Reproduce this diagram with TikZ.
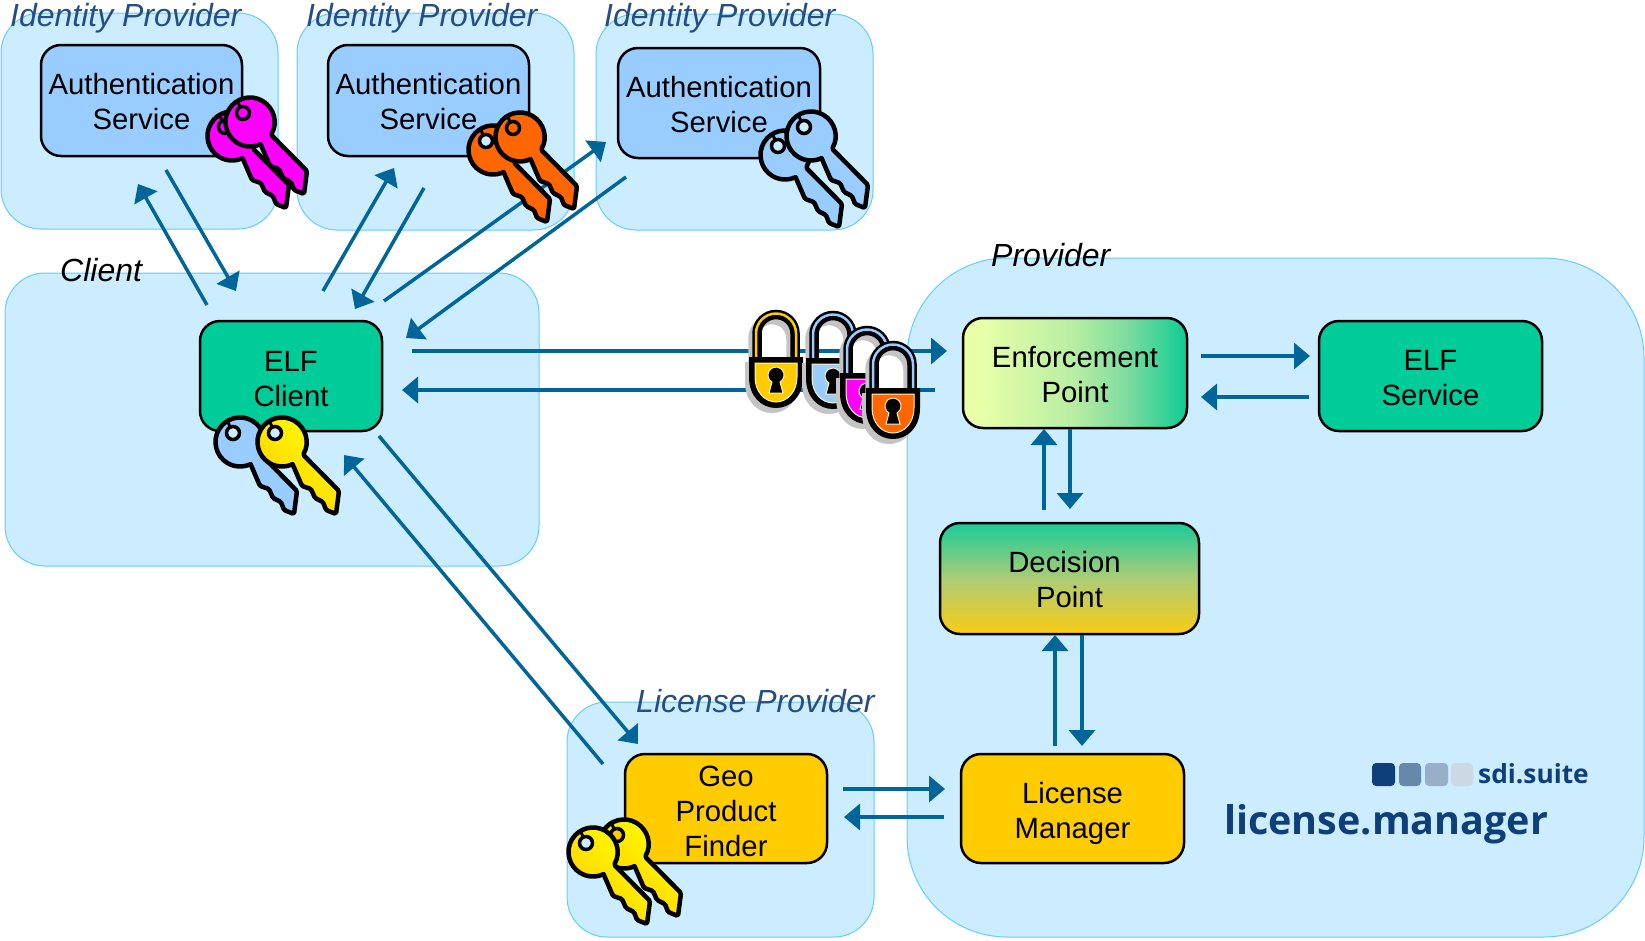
\documentclass[tikz,border=0pt]{standalone}
\usepackage{fontspec}
\setmainfont{Liberation Sans}
\newfontfamily\logofont{Open Sans}
\usetikzlibrary{arrows.meta}
\definecolor{panelfill}{HTML}{CCECFF}
\definecolor{panelline}{HTML}{66CCFF}
\definecolor{authblue}{HTML}{99CCFF}
\definecolor{elfgreen}{HTML}{00CC99}
\definecolor{gold}{HTML}{FFCC00}
\definecolor{arrowblue}{HTML}{006699}
\definecolor{titleblue}{HTML}{254E84}
\definecolor{logoblue}{HTML}{0F3F78}
\definecolor{keymagenta}{HTML}{FF00FF}
\definecolor{keyorange}{HTML}{FF6600}
\definecolor{lockshadow}{HTML}{C4C4C4}
\definecolor{cream}{HTML}{FFF5C8}
\pgfdeclarehorizontalshading{enfshade}{100bp}{
  rgb(0bp)=(0.91,1,0.66); rgb(29bp)=(0.91,1,0.66); rgb(50bp)=(0.72,0.93,0.64);
  rgb(62bp)=(0.48,0.86,0.62); rgb(75bp)=(0.05,0.80,0.58); rgb(100bp)=(0.05,0.80,0.58)}
\pgfdeclareverticalshading{decshade}{100bp}{
  rgb(0bp)=(0.98,0.80,0.08); rgb(25bp)=(0.98,0.80,0.08); rgb(50bp)=(0.68,0.80,0.46);
  rgb(75bp)=(0.10,0.80,0.60); rgb(100bp)=(0.10,0.80,0.60)}
\tikzset{
  x=1pt,y=-1pt,
  panel/.style={draw=panelline,fill=panelfill,line width=1pt,rounded corners=#1},
  svcbox/.style={draw=black,line width=2.5pt,rounded corners=20pt,inner sep=0pt,align=center,
    text depth=0pt,font=\fontsize{29.3}{35}\selectfont},
  title/.style={font=\fontsize{32}{38}\selectfont\itshape,anchor=base west,inner sep=0pt},
  idtitle/.style={title,text=titleblue},
  flow/.style={draw=arrowblue,line width=3.5pt,-{Triangle[length=16pt,width=26pt]}},
  keyline/.style={draw=black,line width=4.5pt,line join=round},
  goldkey/.style={left color=yellow,right color=gold,shading angle=-45},
  logomain/.style={font=\logofont\bfseries\fontsize{39.5}{48}\selectfont,text=logoblue,anchor=base west,inner sep=0pt},
  logosub/.style={font=\logofont\bfseries\fontsize{26.3}{30}\selectfont,text=logoblue,anchor=base west,inner sep=0pt}
}
\newcommand\keyicon[4]{%
  \begin{scope}[shift={(#1,#2)}]
    \draw[keyline,#3] (21,12.6) arc[start angle=-31,end angle=295.5,radius=24.5pt]
      [rounded corners=1.5pt] -- (20,44) -- (29,47) -- (33,56) -- (41,60) -- (44,68) -- (54,72) -- (57,49) -- cycle;
    \draw[draw=black,line width=3.5pt,fill=#4] (-7,-9) circle[radius=6.5pt];
    \draw[draw=black,line width=3pt] (-12,-20) -- (-10,-15);
  \end{scope}}
\newcommand\lockicon[5]{%
  \begin{scope}[shift={(#1,#2)}]
    \ifx#5w\fill[white] (-15,2) -- (-15,-23.5) arc[start angle=180,end angle=0,radius=15pt] -- (15,2) -- cycle;\fi
    \draw[lockshadow,line width=9.5pt,shift={(-4,5)}] (-19,2) -- (-19,-23.5) arc[start angle=180,end angle=0,radius=19pt] -- (19,2);
    \fill[lockshadow,shift={(-4,5)}] (-27,0) -- (27,0) -- (27,20) .. controls (27,40) and (14,51) .. (0,51) .. controls (-14,51) and (-27,40) .. (-27,20) -- cycle;
    \draw[black,line width=9.5pt] (-19,2) -- (-19,-23.5) arc[start angle=180,end angle=0,radius=19pt] -- (19,2);
    \draw[#4,line width=2.5pt] (-20,0) -- (-20,-23.5) arc[start angle=180,end angle=0,radius=20pt] -- (20,0);
    \fill[black] (-27,0) -- (27,0) -- (27,20) .. controls (27,40) and (14,51) .. (0,51) .. controls (-14,51) and (-27,40) .. (-27,20) -- cycle;
    \draw[cream,line width=1pt,fill=#3] (-21,6) -- (21,6) -- (21,20) .. controls (21,35) and (11,45) .. (0,45) .. controls (-11,45) and (-21,35) .. (-21,20) -- cycle;
    \draw[cream,line width=1pt,fill=black] (-4,25) arc[start angle=240,end angle=-60,radius=8pt] -- (7,36) -- (-7,36) -- cycle;
  \end{scope}}
\begin{document}
\begin{tikzpicture}
\useasboundingbox (0,0) rectangle (1645,940);
\fill[white] (0,0) rectangle (1645,940);
% panels
\draw[panel=40pt] (1,13) rectangle (278,229);
\draw[panel=40pt] (297,13) rectangle (574,230);
\draw[panel=40pt] (596,14) rectangle (873,230);
\draw[panel=40pt] (5,273) rectangle (539,566);
\draw[panel=100pt] (907,258) rectangle (1644,937);
\draw[panel=40pt] (567,702) rectangle (874,937);
% titles
\node[idtitle] (t1) at (10,26) {Identity Provider};
\node[idtitle] (t2) at (306,26) {Identity Provider};
\node[idtitle] (t3) at (604,26) {Identity Provider};
\node[title] (tc) at (60,281) {Client};
\node[title] (tp) at (991,266) {Provider};
\node[idtitle] (tl) at (636,712) {License Provider};
% boxes
\node[svcbox,text height=58pt,fill=authblue,minimum width=201pt,minimum height=111pt] (auth1) at (141.5,100.5) {Authentication\\Service};
\node[svcbox,text height=58pt,fill=authblue,minimum width=201pt,minimum height=111pt] (auth2) at (428.5,100.5) {Authentication\\Service};
\node[svcbox,text height=58pt,fill=authblue,minimum width=202pt,minimum height=110pt] (auth3) at (719,103) {Authentication\\Service};
\node[svcbox,text height=60pt,fill=elfgreen,minimum width=182pt,minimum height=110pt] (elfc) at (291,376) {ELF\\Client};
\node[svcbox,text height=58pt,shading=enfshade,minimum width=224pt,minimum height=110pt] (enf) at (1075,373) {Enforcement\\Point};
\node[svcbox,text height=59pt,fill=elfgreen,minimum width=223pt,minimum height=110pt] (elfs) at (1430.5,376) {ELF\\Service};
\node[svcbox,text height=57pt,shading=decshade,minimum width=259pt,minimum height=111pt] (dec) at (1069.5,578.5) {Decision\kern10pt\\Point};
\node[svcbox,text height=59pt,fill=gold,minimum width=223pt,minimum height=109pt] (lm) at (1072.5,808.5) {License\\Manager};
\node[svcbox,text height=95pt,fill=gold,minimum width=202pt,minimum height=109pt] (geo) at (726,808.5) {Geo\\Product\\Finder};
% connector ends
\foreach \n/\a/\b in {a1/207/305,b1/138/184,a2/166/170,b2/236/291,a3/323/291,b3/394/168,a4/424/188,b4/355/309,
  a5/384/301,b5/606/142,a6/626/177,b6/406/338,a7/412/351,b7/947/351,a8/935/390,b8/402/390,
  a9/1201/356,b9/1310/356,a10/1309/397,b10/1201/397,a11/1044/510,b11/1044/429,a12/1070/429,b12/1070/509,
  a13/1055/746,b13/1055/635,a14/1082/635,b14/1082/746,a15/843/789,b15/945/789,a16/944/817,b16/844/817,
  a17/379/436,b17/638/744,a18/603/764,b18/344/455}
  {\coordinate (\n) at (\a,\b);}
\foreach \i in {1,...,18}{\draw[flow] (a\i) -- (b\i);}
% keys
\keyicon{232}{136}{fill=keymagenta}{keymagenta}
\keyicon{250}{122}{fill=keymagenta}{keymagenta}
\keyicon{493}{150}{fill=keyorange}{panelfill}
\keyicon{520}{137}{fill=keyorange}{keyorange}
\keyicon{785}{155}{fill=authblue}{panelfill}
\keyicon{811}{136}{fill=authblue}{panelfill}
\keyicon{240}{442}{fill=authblue}{panelfill}
\keyicon{282}{442}{goldkey}{panelfill}
\keyicon{624}{844}{goldkey}{gold}
\keyicon{593}{852}{goldkey}{panelfill}
% locks
\lockicon{776}{357}{gold}{gold}{w}
\lockicon{833}{358}{authblue}{authblue}{n}
\lockicon{867}{373}{keymagenta}{authblue}{w}
\lockicon{893}{388}{keyorange}{authblue}{w}
% logo
\fill[rounded corners=4pt,fill=logoblue] (1372,763) rectangle (1395,786);
\fill[rounded corners=4pt,fill={rgb,255:red,102;green,136;blue,170}] (1399,763) rectangle (1421,786);
\fill[rounded corners=4pt,fill={rgb,255:red,153;green,174;blue,200}] (1425,763) rectangle (1448,786);
\fill[rounded corners=4pt,fill={rgb,255:red,204;green,216;blue,228}] (1451,763) rectangle (1473,786);
\node[logosub] (suite) at (1478,783) {sdi.suite};
\node[logomain] (manager) at (1224,834) {license.manager};
\end{tikzpicture}
\end{document}
